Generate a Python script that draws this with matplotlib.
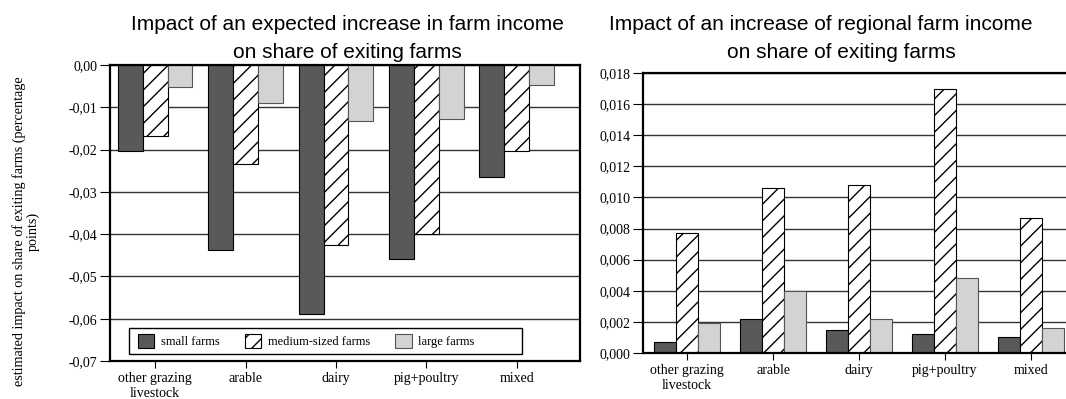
import matplotlib
matplotlib.use("Agg")
import matplotlib.pyplot as plt
import numpy as np
from matplotlib.ticker import FuncFormatter, MultipleLocator
from matplotlib.patches import Rectangle

# farm types on the x axis
categories = ["other grazing\nlivestock", "arable", "dairy", "pig+poultry", "mixed"]
sizes = ["small farms", "medium-sized farms", "large farms"]

# expected farm income -> share of exiting farms
exp_small = [-0.0203, -0.0437, -0.0588, -0.0458, -0.0266]
exp_medium = [-0.0169, -0.0233, -0.0425, -0.0400, -0.0203]
exp_large = [-0.0051, -0.0091, -0.0132, -0.0128, -0.0048]

# regional farm income -> share of exiting farms
reg_small = [0.0007, 0.0022, 0.0015, 0.0012, 0.0010]
reg_medium = [0.0077, 0.0106, 0.0108, 0.0170, 0.0087]
reg_large = [0.0019, 0.0040, 0.0022, 0.0048, 0.0016]

plt.rcParams["hatch.linewidth"] = 1.0
serif = ["Liberation Serif", "DejaVu Serif"]
sans = ["Liberation Sans", "DejaVu Sans"]

W, H = 1066, 399
fig = plt.figure(figsize=(W / 100, H / 100), dpi=100)

ax1 = fig.add_axes([110 / W, 1 - 361 / H, 470 / W, 296 / H])
ax2 = fig.add_axes([643 / W, 1 - 353 / H, 430 / W, 280 / H])

styles = [
    dict(color="#595959", edgecolor="black", linewidth=0.8),
    dict(color="white", edgecolor="black", linewidth=0.8, hatch="//"),
    dict(color="#d3d3d3", edgecolor="#555555", linewidth=0.8),
]


def draw(ax, series, width, decimals):
    x = np.arange(len(categories))
    bars = []
    for i, (vals, st) in enumerate(zip(series, styles)):
        b = ax.bar(x + (i - 1) * width, vals, width, label=sizes[i], zorder=2, **st)
        bars.append(b)
    ax.set_xticks(x)
    ax.set_xticklabels(categories, fontfamily=serif, fontsize=10, linespacing=1.15)
    fmt = "{:.%df}" % decimals
    zero = "0," + "0" * decimals
    ax.yaxis.set_major_formatter(
        FuncFormatter(lambda v, p: fmt.format(v).replace(".", ",").replace("-" + zero, zero)))
    ax.tick_params(axis="y", labelsize=10, length=7, width=0.8, direction="out", pad=2)
    ax.tick_params(axis="x", length=5, width=0.8, direction="out", pad=3)
    ax.yaxis.grid(True, color="#333333", linewidth=1.0)
    ax.set_axisbelow(True)
    for s in ax.spines.values():
        s.set_linewidth(1.6)
        s.set_color("black")
    return bars


bars = draw(ax1, [exp_small, exp_medium, exp_large], 0.275, 2)
ax1.set_ylim(-0.07, 0.0)
ax1.yaxis.set_major_locator(MultipleLocator(0.01))
ax1.set_xlim(-0.5, 4.7)
for lab in ax1.get_yticklabels():
    lab.set_fontfamily(serif)

draw(ax2, [reg_small, reg_medium, reg_large], 0.257, 3)
ax2.set_ylim(0.0, 0.018)
ax2.yaxis.set_major_locator(MultipleLocator(0.002))
ax2.set_xlim(-0.513, 4.49)
for lab in ax2.get_yticklabels():
    lab.set_fontfamily(serif)

# legend box inside the left panel
ax1.add_patch(Rectangle((0.040, 0.0226), 0.837, 0.088, transform=ax1.transAxes,
                        fill=True, facecolor="white", edgecolor="black",
                        linewidth=1.0, zorder=4))
leg = ax1.legend(handles=bars, loc="center left", bbox_to_anchor=(0.0596, 0.0665),
                 ncol=3, frameon=False, borderpad=0, borderaxespad=0,
                 handlelength=1.3, handleheight=1.3, handletextpad=0.55,
                 columnspacing=2.0, prop={"family": serif, "size": 9})
leg.set_zorder(5)

# titles
fig.text(347 / W, 1 - 30.5 / H, "Impact of an expected increase in farm income",
         ha="center", va="baseline", fontsize=15, family=sans)
fig.text(347 / W, 1 - 57.5 / H, "on share of exiting farms",
         ha="center", va="baseline", fontsize=15, family=sans)
fig.text(821 / W, 1 - 30.5 / H, "Impact of an increase of regional farm income",
         ha="center", va="baseline", fontsize=15, family=sans)
fig.text(841 / W, 1 - 57.5 / H, "on share of exiting farms",
         ha="center", va="baseline", fontsize=15, family=sans)

fig.text(26 / W, 1 - 231.5 / H,
         "estimated impact on share of exiting farms (percentage\npoints)",
         rotation=90, ha="center", va="center", multialignment="center",
         fontsize=10.2, family=serif, linespacing=1.05)

fig.savefig("out.png", dpi=100)
